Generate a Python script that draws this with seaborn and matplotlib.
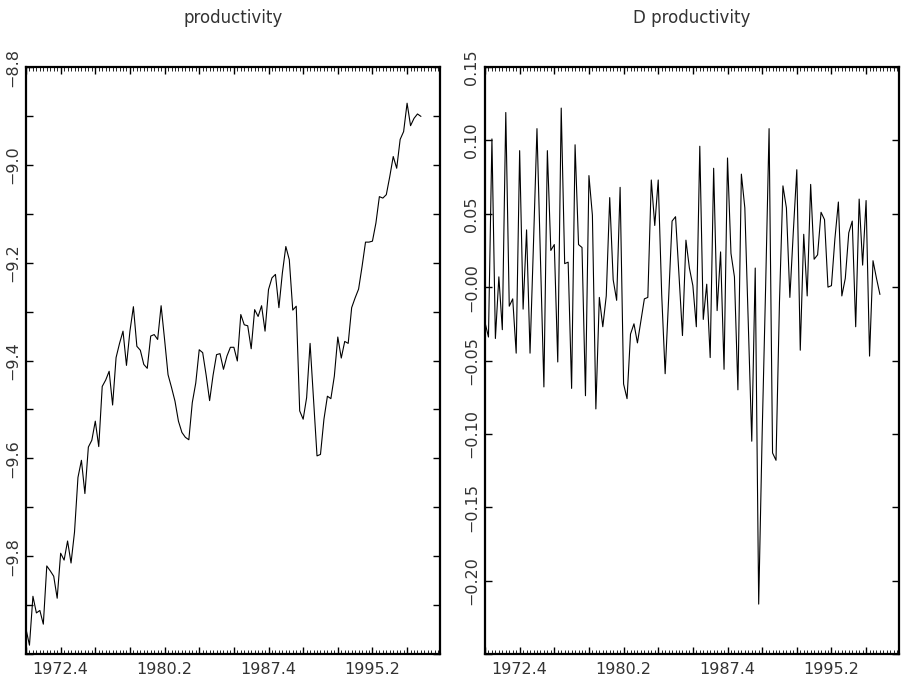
import numpy as np
import pandas as pd
import matplotlib
matplotlib.use("Agg")
import matplotlib.pyplot as plt
import seaborn as sns
from matplotlib.ticker import FixedLocator, MultipleLocator, FuncFormatter

# ---------------- data (quarterly, first obs = 1970.2) ----------------
start_year, start_q = 1970, 2

productivity = [
    -9.949, -9.982, -9.882, -9.916, -9.911, -9.939, -9.820, -9.830, -9.841, -9.886,
    -9.794, -9.808, -9.769, -9.814, -9.751, -9.639, -9.604, -9.672, -9.577, -9.563,
    -9.524, -9.576, -9.453, -9.440, -9.422, -9.491, -9.394, -9.365, -9.340, -9.410,
    -9.340, -9.290, -9.371, -9.379, -9.408, -9.416, -9.350, -9.347, -9.357, -9.288,
    -9.357, -9.429, -9.455, -9.483, -9.524, -9.547, -9.557, -9.562, -9.486, -9.446,
    -9.378, -9.384, -9.430, -9.482, -9.430, -9.388, -9.386, -9.418, -9.391, -9.373,
    -9.373, -9.401, -9.306, -9.327, -9.329, -9.376, -9.296, -9.310, -9.288, -9.340,
    -9.255, -9.231, -9.224, -9.292, -9.221, -9.167, -9.194, -9.297, -9.289, -9.503,
    -9.520, -9.476, -9.365, -9.480, -9.595, -9.592, -9.520, -9.473, -9.478, -9.432,
    -9.352, -9.395, -9.361, -9.365, -9.292, -9.272, -9.254, -9.208, -9.158, -9.158,
    -9.156, -9.119, -9.065, -9.068, -9.061, -9.024, -8.983, -9.007, -8.948, -8.932,
    -8.874, -8.920, -8.905, -8.896, -8.901,
]

d_productivity = [
    -0.024, -0.034, 0.101, -0.035, 0.007, -0.029, 0.119, -0.013, -0.008, -0.045,
    0.093, -0.015, 0.039, -0.045, 0.030, 0.108, 0.020, -0.068, 0.093, 0.025,
    0.029, -0.051, 0.122, 0.016, 0.017, -0.069, 0.097, 0.029, 0.027, -0.074,
    0.076, 0.049, -0.083, -0.007, -0.027, -0.006, 0.061, 0.005, -0.009, 0.068,
    -0.066, -0.076, -0.032, -0.025, -0.038, -0.023, -0.008, -0.007, 0.073, 0.042,
    0.073, -0.005, -0.059, -0.008, 0.045, 0.048, 0.008, -0.033, 0.032, 0.013,
    0.001, -0.027, 0.096, -0.022, 0.002, -0.048, 0.081, -0.016, 0.024, -0.056,
    0.088, 0.023, 0.007, -0.070, 0.077, 0.054, -0.025, -0.105, 0.013, -0.216,
    -0.100, 0.000, 0.108, -0.113, -0.118, -0.010, 0.069, 0.054, -0.007, 0.038,
    0.080, -0.043, 0.036, -0.006, 0.070, 0.019, 0.022, 0.051, 0.046, 0.000,
    0.001, 0.033, 0.058, -0.006, 0.006, 0.037, 0.045, -0.027, 0.060, 0.015,
    0.059, -0.047, 0.018, 0.006, -0.005,
]

x_tick_labels = ["1972.4", "1980.2", "1987.4", "1995.2"]
titles = ["productivity", "D productivity"]

left_yticks = [-10.0, -9.9, -9.8, -9.7, -9.6, -9.5, -9.4, -9.3, -9.2, -9.1, -9.0, -8.9, -8.8]
left_ylabels = {-9.8: "\u22129.8", -9.6: "\u22129.6", -9.4: "\u22129.4",
                -9.2: "\u22129.2", -9.0: "\u22129.0", -8.8: "\u22128.8"}
right_yticks = [-0.25, -0.20, -0.15, -0.10, -0.05, 0.0, 0.05, 0.10, 0.15]
right_ylabels = {-0.20: "\u22120.20", -0.15: "\u22120.15", -0.10: "\u22120.10",
                 -0.05: "\u22120.05", 0.0: "\u22120.00", 0.05: "0.05",
                 0.10: "0.10", 0.15: "0.15"}


def qpos(label):
    y, q = label.split(".")
    return (int(y) - start_year) * 4 + (int(q) - start_q)


df1 = pd.DataFrame({"t": np.arange(len(productivity)), "v": productivity})
df2 = pd.DataFrame({"t": np.arange(len(d_productivity)), "v": d_productivity})

sns.set_theme(style="ticks")
plt.rcParams["font.family"] = ["DejaVu Sans"]

fig = plt.figure(figsize=(9.04, 6.8), dpi=100)
ax1 = fig.add_axes([26 / 904, 26 / 680, (440 - 26) / 904, (654 - 67) / 680])
ax2 = fig.add_axes([485 / 904, 26 / 680, (899 - 485) / 904, (654 - 67) / 680])

label_pos = {qpos(l): l for l in x_tick_labels}

for ax, df, title, yt, yl, ylim in [
    (ax1, df1, titles[0], left_yticks, left_ylabels, (-10.0, -8.8)),
    (ax2, df2, titles[1], right_yticks, right_ylabels, (-0.25, 0.15)),
]:
    sns.lineplot(data=df, x="t", y="v", ax=ax, color="black", linewidth=0.8)
    ax.set_xlim(0, 119.5)
    ax.set_ylim(*ylim)
    ax.set_xlabel("")
    ax.set_ylabel("")
    ax.set_title(title, fontsize=12, color="#333333", pad=32)

    ax.xaxis.set_major_locator(FixedLocator(list(range(0, 120, 10))))
    ax.xaxis.set_minor_locator(MultipleLocator(1))
    ax.xaxis.set_major_formatter(FuncFormatter(lambda v, p: label_pos.get(int(round(v)), "")))

    ax.yaxis.set_major_locator(FixedLocator(yt))
    ax.yaxis.set_major_formatter(FuncFormatter(
        lambda v, p, yl=yl: next((s for k, s in yl.items() if abs(k - v) < 1e-6), "")))

    ax.tick_params(axis="both", which="both", direction="in",
                   top=True, right=True, bottom=True, left=True, colors="black")
    ax.tick_params(axis="x", which="major", length=5, width=1.0, labelsize=11.5, pad=6)
    ax.tick_params(axis="x", which="minor", length=2.8, width=0.6)
    ax.tick_params(axis="y", which="major", length=5, width=1.0, labelsize=11.5, pad=4)
    for s in ax.spines.values():
        s.set_linewidth(1.6)
        s.set_color("black")
    ax.set_facecolor("white")

for ax in (ax1, ax2):
    for lab in ax.get_yticklabels():
        lab.set_rotation(90)
        lab.set_va("center")
        lab.set_color("#333333")
    for lab in ax.get_xticklabels():
        lab.set_color("#333333")

fig.savefig("out.png", dpi=100, facecolor="white")
